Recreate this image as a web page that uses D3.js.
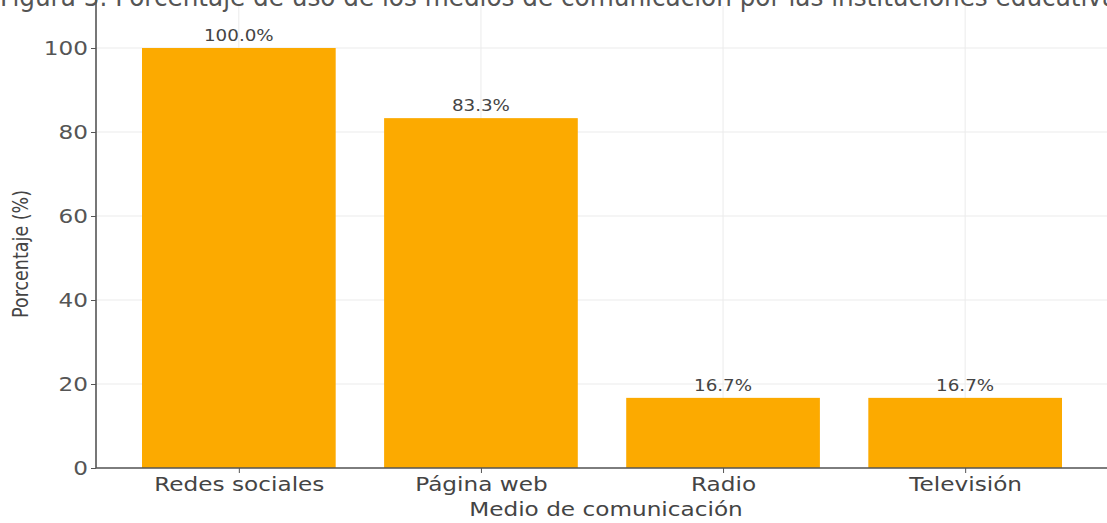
<!DOCTYPE html>
<html><head><meta charset="utf-8">
<script src="https://cdn.jsdelivr.net/npm/d3@7"></script>
<style>body{margin:0;background:#fff}svg{display:block;font-family:"DejaVu Sans",sans-serif}</style>
</head><body><svg id="c" width="1107" height="523"></svg>
<script>
const categories = ["Redes sociales", "Página web", "Radio", "Televisión"];
const values = [100.0, 83.3, 16.7, 16.7];
const yTicks = [0, 20, 40, 60, 80, 100];
const chartTitle = "Figura 3. Porcentaje de uso de los medios de comunicación por las instituciones educativas";

(function () {
const svg = d3.select("#c");
const mL = 96, mR = 1108, mT = 6, mB = 468;
const sx = 1.22; // horizontal stretch of the text in the reference

const x = d3.scaleLinear().domain([-0.59, categories.length - 1 + 0.59]).range([mL, mR]);
const y = d3.scaleLinear().domain([0, 110]).range([mB, mT]);
const barW = x(0.8) - x(0);

// title (clipped at top, as in the reference)
svg.append("text").attr("x", 0).attr("y", 6).attr("font-size", 26).attr("fill", "#555")
  .attr("font-family", "DejaVu Sans")
  .attr("textLength", 1130).attr("lengthAdjust", "spacingAndGlyphs").text(chartTitle);

// grid
svg.append("g").selectAll("line").data(yTicks).join("line")
  .attr("x1", mL).attr("x2", mR).attr("y1", d => y(d)).attr("y2", d => y(d))
  .attr("stroke", "#ebebeb").attr("stroke-width", 1);
svg.append("g").selectAll("line").data(categories).join("line")
  .attr("x1", (d, i) => x(i)).attr("x2", (d, i) => x(i)).attr("y1", mT).attr("y2", mB)
  .attr("stroke", "#ebebeb").attr("stroke-width", 1);

// bars
svg.append("g").selectAll("rect").data(values).join("rect")
  .attr("x", (d, i) => x(i) - barW / 2).attr("width", barW)
  .attr("y", d => y(d)).attr("height", d => y(0) - y(d))
  .attr("fill", "#FCAA00");

// value labels
svg.append("g").selectAll("text").data(values).join("text")
  .attr("transform", (d, i) => `translate(${x(i)},${y(d) - 7}) scale(${sx},1)`)
  .attr("text-anchor", "middle").attr("font-size", 15).attr("fill", "#444")
  .text(d => d.toFixed(1) + "%");

// axes
const yAxis = d3.axisLeft(y).tickValues(yTicks).tickSize(5).tickPadding(8);
const gy = svg.append("g").attr("transform", `translate(${mL},0)`).call(yAxis);
gy.select(".domain").attr("stroke", "#555").attr("stroke-width", 1.6).attr("d", `M0,${mT - 10}V${mB}`);
gy.selectAll(".tick line").attr("stroke", "#555");
gy.selectAll(".tick text").attr("font-size", 19).attr("fill", "#555").attr("font-family", "DejaVu Sans")
  .attr("x", -8 / sx).attr("transform", `scale(${sx},1)`);

const xAxis = d3.axisBottom(x).tickValues(d3.range(categories.length)).tickFormat(i => categories[i]).tickSize(5).tickPadding(5);
const gx = svg.append("g").attr("transform", `translate(0,${mB})`).call(xAxis);
gx.select(".domain").attr("stroke", "#555").attr("stroke-width", 1.6).attr("d", `M${mL},0H${mR}`);
gx.selectAll(".tick line").attr("stroke", "#555");
gx.selectAll(".tick text").attr("font-size", 19).attr("fill", "#444").attr("font-family", "DejaVu Sans")
  .attr("transform", `scale(${sx},1)`);

// axis titles
svg.append("text").attr("transform", `translate(606,516) scale(${sx},1)`).attr("text-anchor", "middle")
  .attr("font-size", 19).attr("fill", "#444").text("Medio de comunicación");
svg.append("text").attr("transform", `translate(28,254) scale(${sx},1) rotate(-90)`)
  .attr("text-anchor", "middle").attr("font-size", 17.5).attr("fill", "#444").text("Porcentaje (%)");
})();
</script></body></html>
